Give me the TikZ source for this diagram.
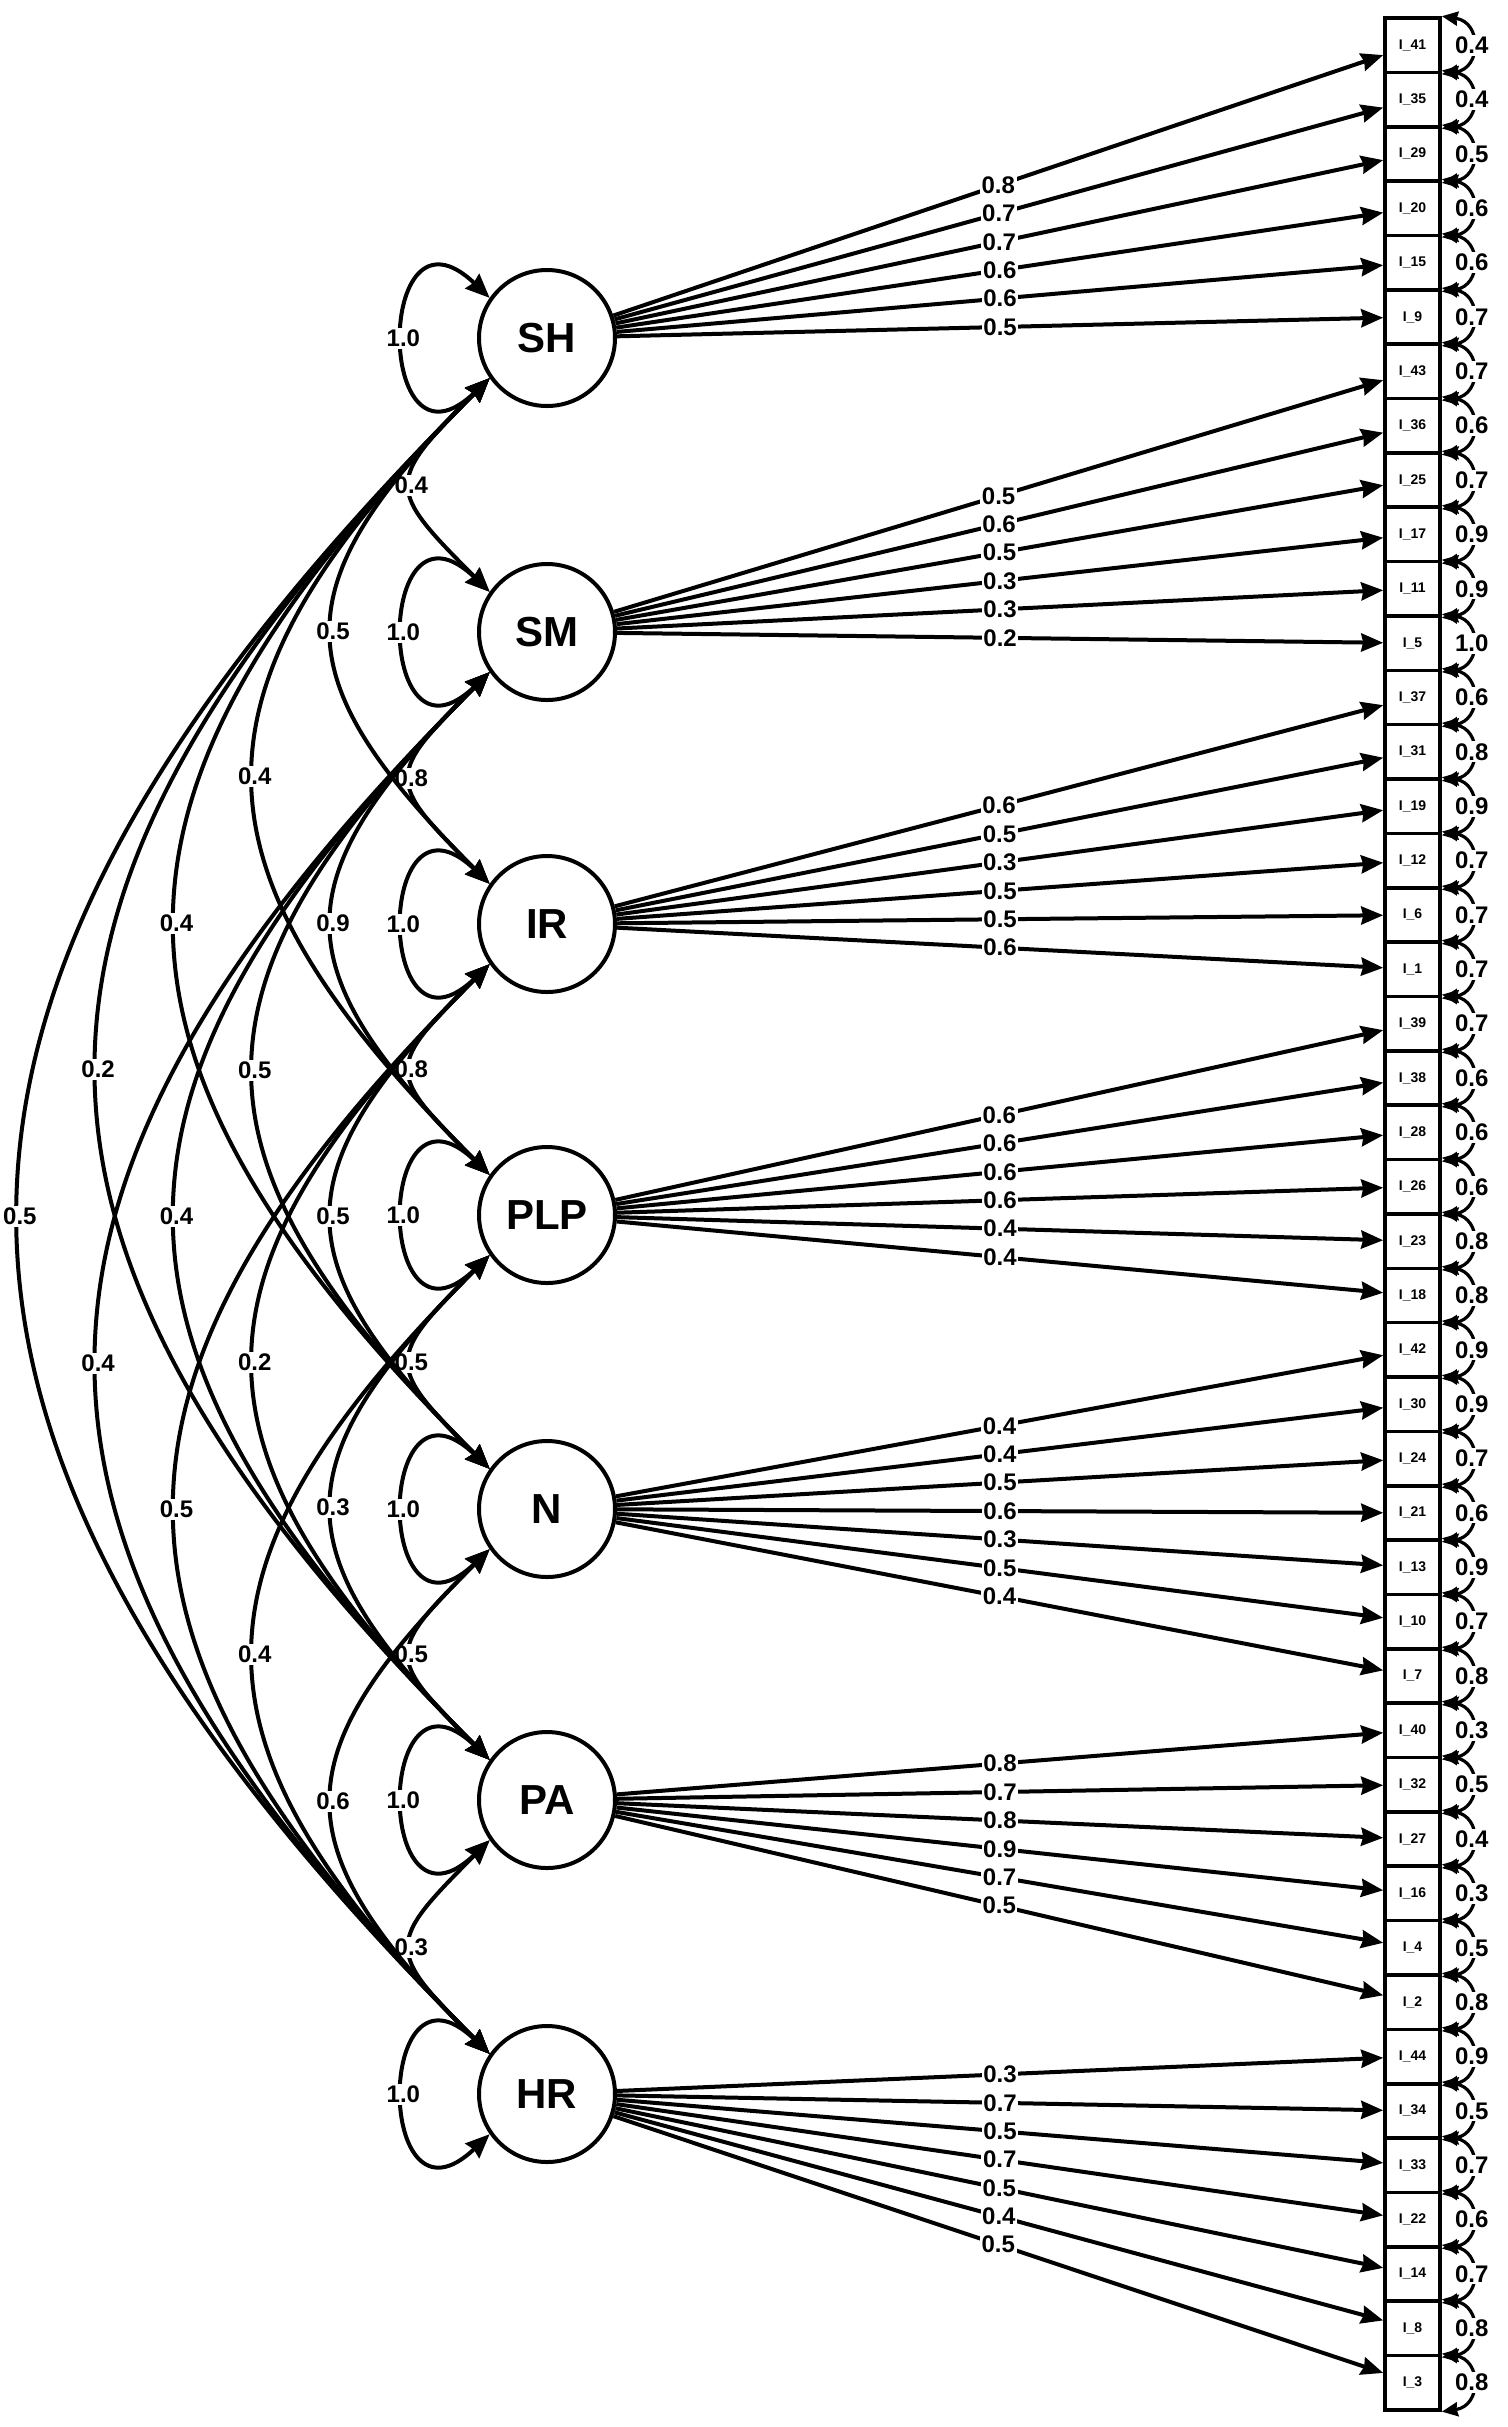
\documentclass[tikz,border=0pt]{standalone}
\usepackage{fontspec}
\setmainfont{Liberation Sans}
\usetikzlibrary{arrows.meta}
\begin{document}
\begin{tikzpicture}[x=0.5pt,y=-0.5pt,
  lat/.style={circle,draw,line width=2pt,fill=white,minimum size=68pt,inner sep=0pt,font=\fontsize{21}{24}\selectfont\bfseries},
  ind/.style={rectangle,draw,line width=1.8pt,fill=white,minimum width=27.5pt,minimum height=27.18pt,inner sep=0pt,font=\fontsize{7}{8}\selectfont\bfseries},
  load/.style={line width=2pt,-{Stealth[length=11pt,width=9pt,inset=1pt]}},
  cov/.style={line width=2pt,{Stealth[length=12pt,width=10pt,inset=1pt]}-{Stealth[length=12pt,width=10pt,inset=1pt]}},
  res/.style={line width=1.6pt,{Stealth[length=8pt,width=7pt,inset=0.5pt]}-{Stealth[length=8pt,width=7pt,inset=0.5pt]}},
  lab/.style={fill=white,inner sep=1pt,font=\fontsize{12}{13}\selectfont\bfseries},
  llab/.style={fill=white,inner sep=0.8pt,font=\fontsize{12}{13}\selectfont\bfseries}]
\useasboundingbox (0,0) rectangle (1508,2427);

% latent variables
\node[lat] (SH)  at (547,338)  {SH};
\node[lat] (SM)  at (547,632)  {SM};
\node[lat] (IR)  at (547,924)  {IR};
\node[lat] (PLP) at (547,1215) {PLP};
\node[lat] (N)   at (547,1509) {N};
\node[lat] (PA)  at (547,1800) {PA};
\node[lat] (HR)  at (547,2094) {HR};

% indicators
\foreach \nm [count=\k] in {41,35,29,20,15,9,43,36,25,17,11,5,37,31,19,12,6,1,39,38,28,26,23,18,42,30,24,21,13,10,7,40,32,27,16,4,2,44,34,33,22,14,8,3}
  \node[ind] (b\k) at (1412.5,{18+54.36*(\k-0.5)}) {I\_\nm};

% loadings
\foreach \l/\b/\v in {SH/1/0.8,SH/2/0.7,SH/3/0.7,SH/4/0.6,SH/5/0.6,SH/6/0.5,
  SM/7/0.5,SM/8/0.6,SM/9/0.5,SM/10/0.3,SM/11/0.3,SM/12/0.2,
  IR/13/0.6,IR/14/0.5,IR/15/0.3,IR/16/0.5,IR/17/0.5,IR/18/0.6,
  PLP/19/0.6,PLP/20/0.6,PLP/21/0.6,PLP/22/0.6,PLP/23/0.4,PLP/24/0.4,
  N/25/0.4,N/26/0.4,N/27/0.5,N/28/0.6,N/29/0.3,N/30/0.5,N/31/0.4,
  PA/32/0.8,PA/33/0.7,PA/34/0.8,PA/35/0.9,PA/36/0.7,PA/37/0.5,
  HR/38/0.3,HR/39/0.7,HR/40/0.5,HR/41/0.7,HR/42/0.5,HR/43/0.4,HR/44/0.5}
  \draw[load] (\l) -- (b\b) node[llab,midway] {\v};

% residual variances
\foreach \k/\v in {1/0.4,2/0.4,3/0.5,4/0.6,5/0.6,6/0.7,7/0.7,8/0.6,9/0.7,10/0.9,11/0.9,12/1.0,
  13/0.6,14/0.8,15/0.9,16/0.7,17/0.7,18/0.7,19/0.7,20/0.6,21/0.6,22/0.6,23/0.8,24/0.8,
  25/0.9,26/0.9,27/0.7,28/0.6,29/0.9,30/0.7,31/0.8,32/0.3,33/0.5,34/0.4,35/0.3,36/0.5,37/0.8,
  38/0.9,39/0.5,40/0.7,41/0.6,42/0.7,43/0.8,44/0.8}
  \draw[res] (b\k.north east) .. controls +(40,6) and +(40,-6) .. (b\k.south east) node[lab,midway] {\v};

% latent variances
\foreach \n in {SH,SM,IR,PLP,N,PA,HR}
  \draw[cov] (\n.215) .. controls +(-115,110) and +(-115,-110) .. (\n.145) node[lab,midway] {1.0};

% latent covariances
\foreach \a/\b/\d/\v in {SH/SM/1/0.4,SM/IR/1/0.8,IR/PLP/1/0.8,PLP/N/1/0.5,N/PA/1/0.5,PA/HR/1/0.3,
  SH/IR/2/0.5,SM/PLP/2/0.9,IR/N/2/0.5,PLP/PA/2/0.3,N/HR/2/0.6,
  SH/PLP/3/0.4,SM/N/3/0.5,IR/PA/3/0.2,PLP/HR/3/0.4,
  SH/N/4/0.4,SM/PA/4/0.4,IR/HR/4/0.5,
  SH/PA/5/0.2,SM/HR/5/0.4,
  SH/HR/6/0.5}
  \draw[cov] (\a.215) .. controls +({-104.4*\d},{104.4*\d}) and +({-104.4*\d},{-104.4*\d}) .. (\b.145) node[lab,midway] {\v};
\end{tikzpicture}
\end{document}
